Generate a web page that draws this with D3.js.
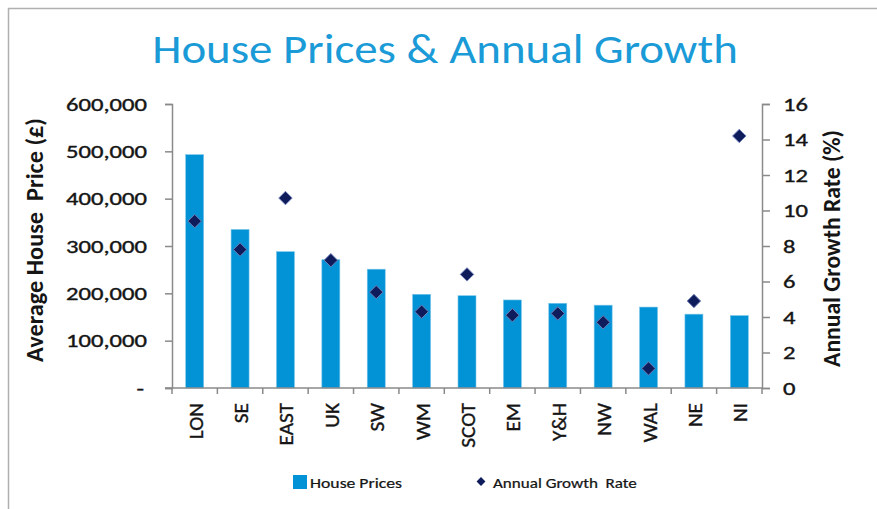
<!DOCTYPE html>
<html><head><meta charset="utf-8">
<script src="https://cdn.jsdelivr.net/npm/d3@7"></script>
<style>
html,body{margin:0;padding:0;background:#fff;}
svg{display:block;}
text{font-family:Carlito,Calibri,Lato,"Open Sans",sans-serif;}
</style></head>
<body>
<svg id="chart" width="877" height="509"></svg>
<script>
const categories = ["LON","SE","EAST","UK","SW","WM","SCOT","EM","Y&H","NW","WAL","NE","NI"];
const housePrices = [493000,335000,288000,271000,251000,198000,195000,186000,179000,175000,171000,156000,153000];
const growthRates = [9.4,7.8,10.7,7.2,5.4,4.3,6.4,4.1,4.2,3.7,1.1,4.9,14.2];
const priceTicks = [0,100000,200000,300000,400000,500000,600000];
const growthTicks = [0,2,4,6,8,10,12,14,16];

const barColor = "#0292d6", diaColor = "#0e1c5c", axisColor = "#8a8a8a", textColor = "#151515";
const svg = d3.select("#chart");
const L = 172, R = 762, T = 104, B = 388;

// helper: text placed at (x,y), rotated, scaled along/across
function label(parent, x, y, rot, txt, size, anchor, opts) {
  opts = opts || {};
  const g = parent.append("g").attr("transform", `translate(${x},${y}) rotate(${rot})`);
  const t = g.append("text").attr("text-anchor", anchor).attr("fill", opts.fill || textColor)
    .style("font-size", size + "px").style("font-weight", opts.bold ? "bold" : "normal")
    .style("white-space", "pre").text(txt);
  if (opts.heavy) t.attr("stroke", opts.fill || textColor).attr("stroke-width", opts.heavy);
  let sx = opts.sx || 1;
  if (opts.len) sx = opts.len / t.node().getComputedTextLength();
  const sy = opts.sy || 1;
  t.attr("transform", `scale(${sx},${sy})`);
  return t;
}

// outer border
svg.append("rect").attr("x",8.5).attr("y",8.5).attr("width",900).attr("height",520)
  .attr("fill","none").attr("stroke","#b0b0b0").attr("stroke-width",1.5);

// title
label(svg, 445, 63, 0, "House Prices & Annual Growth", 42, "middle", {fill:"#1a9bd7", len:586});

const x = d3.scaleBand().domain(categories).range([L,R]).paddingInner(0).paddingOuter(0);
const yL = d3.scaleLinear().domain([0,600000]).range([B,T]);
const yR = d3.scaleLinear().domain([0,16]).range([B,T]);

// bars
const bw = 18;
svg.append("g").selectAll("rect").data(categories).join("rect")
  .attr("x",d=>x(d)+x.bandwidth()/2-bw/2).attr("width",bw)
  .attr("y",(d,i)=>yL(housePrices[i])).attr("height",(d,i)=>B-yL(housePrices[i]))
  .attr("fill",barColor).attr("stroke","#7cc6ea").attr("stroke-width",0.6);

// left axis (line + ticks)
const gL = svg.append("g").attr("transform",`translate(${L},0)`)
  .call(d3.axisLeft(yL).tickValues(priceTicks).tickSize(7).tickFormat(""));
gL.select(".domain").attr("stroke",axisColor).attr("stroke-width",1.5);
gL.selectAll(".tick line").attr("stroke",axisColor).attr("stroke-width",1.5);
const probe = svg.append("text").style("font-size","17.5px").text("600,000");
const tickSx = 81 / probe.node().getComputedTextLength();
probe.remove();
const gLL = svg.append("g");
priceTicks.forEach(v => {
  const s = v === 0 ? "-" : d3.format(",")(v);
  label(gLL, v === 0 ? 144 : 147, yL(v) + 6.5, 0, s, 17.5, "end", {sx: tickSx, heavy:0.35});
});

// right axis
const gR = svg.append("g").attr("transform",`translate(${R},0)`)
  .call(d3.axisRight(yR).tickValues(growthTicks).tickSize(8).tickFormat(""));
gR.select(".domain").attr("stroke",axisColor).attr("stroke-width",1.5);
gR.selectAll(".tick line").attr("stroke",axisColor).attr("stroke-width",1.5);
const gRL = svg.append("g");
growthTicks.forEach(v => {
  label(gRL, 783, yR(v) + 6.5, 0, String(v), 17.5, "start", {sx: tickSx, heavy:0.35});
});

// bottom axis
svg.append("line").attr("x1",L-7).attr("x2",R).attr("y1",B).attr("y2",B)
  .attr("stroke",axisColor).attr("stroke-width",1.5);
const bounds = [L].concat(categories.map(c=>x(c)+x.bandwidth()));
svg.append("g").selectAll("line").data(bounds).join("line")
  .attr("x1",d=>d).attr("x2",d=>d).attr("y1",B).attr("y2",B+6)
  .attr("stroke",axisColor).attr("stroke-width",1.5);

// x labels
const gX = svg.append("g");
categories.forEach(c => {
  label(gX, x(c)+x.bandwidth()/2+8, 403, -90, c, 17, "end", {sx:1.25, sy:1.25, heavy:0.3});
});

// diamonds
const diamond = d3.symbol().type(d3.symbolDiamond2).size(115);
svg.append("g").selectAll("path").data(categories).join("path")
  .attr("transform",(d,i)=>`translate(${x(d)+x.bandwidth()/2},${yR(growthRates[i])})`)
  .attr("d",diamond).attr("fill",diaColor).attr("stroke","#6f7fb8").attr("stroke-width",1);

// axis titles
label(svg, 43, 240, -90, "Average House  Price (£)", 18, "middle", {bold:true, sy:1.3, len:244});
label(svg, 840, 248.5, -90, "Annual Growth Rate (%)", 18, "middle", {bold:true, sy:1.3, len:237});

// legend
svg.append("rect").attr("x",293).attr("y",475).attr("width",14).attr("height",14).attr("fill",barColor);
label(svg, 310, 488, 0, "House Prices", 15, "start", {len:92, heavy:0.25});
svg.append("path").attr("transform","translate(481,481.5)").attr("d",d3.symbol().type(d3.symbolDiamond2).size(50))
  .attr("fill",diaColor);
label(svg, 493, 488, 0, "Annual Growth  Rate", 15, "start", {len:144, heavy:0.25});
</script>
</body></html>
